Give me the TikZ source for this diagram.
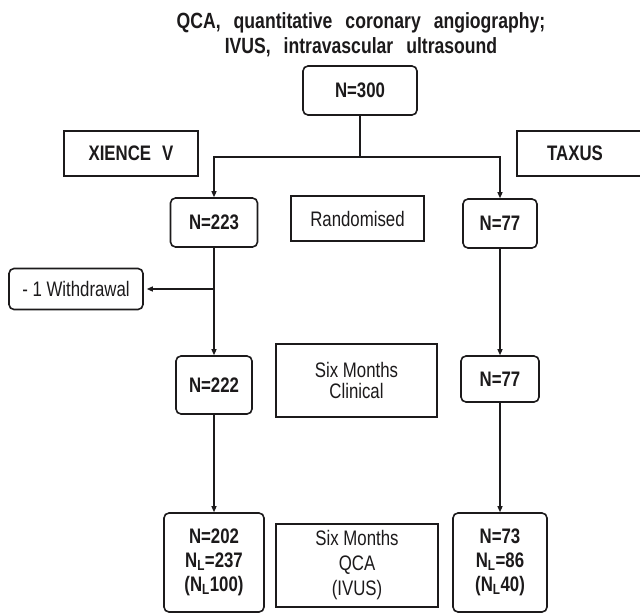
\documentclass[tikz,border=0pt]{standalone}
\usepackage{fontspec}
\setmainfont{Liberation Sans}[FakeStretch=0.8]
\usetikzlibrary{arrows.meta}
\definecolor{ink}{HTML}{1C1A1B}
\newcommand\NLsub{N\textsubscript{L}}
\begin{document}
\begin{tikzpicture}[x=1pt,y=-1pt,
  every node/.style={text=ink, inner sep=0pt, align=center, font=\fontsize{21}{24}\selectfont},
  bold/.style={font=\fontsize{21}{24}\selectfont\bfseries},
  reg/.style={font=\fontsize{21}{24}\selectfont},
  rbox/.style={draw=ink, line width=1.6pt, rounded corners=5pt, fill=white},
  sbox/.style={draw=ink, line width=2.2pt, fill=white},
  sz/.style 2 args={minimum width=#1, minimum height=#2},
  link/.style={draw=ink, line width=1.2pt},
  arr/.style={link, -{Triangle[length=6pt,width=5pt]}},
]
\useasboundingbox (0,0) rectangle (640,613);
\fill[white] (0,0) rectangle (640,613);

% title
\node[font=\fontsize{22}{25}\selectfont\bfseries] (title) at (361,34.5)
  {\spaceskip=13pt QCA, quantitative coronary angiography;\\ \spaceskip=13pt IVUS, intravascular ultrasound};

% top
\node[rbox, bold, sz={114}{49}] (n300) at (360,90.5) {N=300};
\node[sbox, bold, sz={134}{45}] (xience) at (131,153.5) {XIENCE\hspace{11pt}V};
\node[sbox, sz={130}{45}, anchor=west] (taxusbox) at (516,153.5) {};
\node[bold] (taxus) at (575,153.5) {TAXUS};

% row 1
\node[rbox, bold, sz={87}{49}] (n223) at (214,222.5) {N=223};
\node[sbox, reg, sz={133}{45}] (random) at (357.5,218.5) {Randomised};
\node[rbox, bold, sz={74}{49}] (n77a) at (500,223.5) {N=77};
\node[rbox, reg, sz={134}{41}] (withdrawal) at (76,289) {- 1 Withdrawal};

% row 2
\node[rbox, bold, sz={76}{58}] (n222) at (214,385) {N=222};
\node[sbox, font=\fontsize{21}{21}\selectfont, sz={161}{73}] (clinical) at (356.5,380.5) {Six Months\\Clinical};
\node[rbox, bold, sz={78}{46}] (n77b) at (500,379) {N=77};

% row 3
\node[rbox, bold, sz={100}{99}] (n202) at (214,562.5) {N=202\\\NLsub=237\\(\NLsub100)};
\node[sbox, font=\fontsize{21}{25}\selectfont, sz={162}{83}] (qca) at (357,565.5) {Six Months\\QCA\\(IVUS)};
\node[rbox, bold, sz={94}{99}] (n73) at (500,562.5) {N=73\\\NLsub=86\\(\NLsub40)};

% connectors
\coordinate (split) at (360,157);
\coordinate (wd) at (214,289);
\draw[link] (n300) -- (split);
\draw[arr] (split) -| (n223);
\draw[arr] (split) -| (n77a);
\draw[arr] (n223) -- (n222);
\draw[arr, shorten >=3pt] (wd) -- (withdrawal);
\draw[arr] (n222) -- (n202);
\draw[arr] (n77a) -- (n77b);
\draw[arr] (n77b) -- (n73);
\end{tikzpicture}
\end{document}
